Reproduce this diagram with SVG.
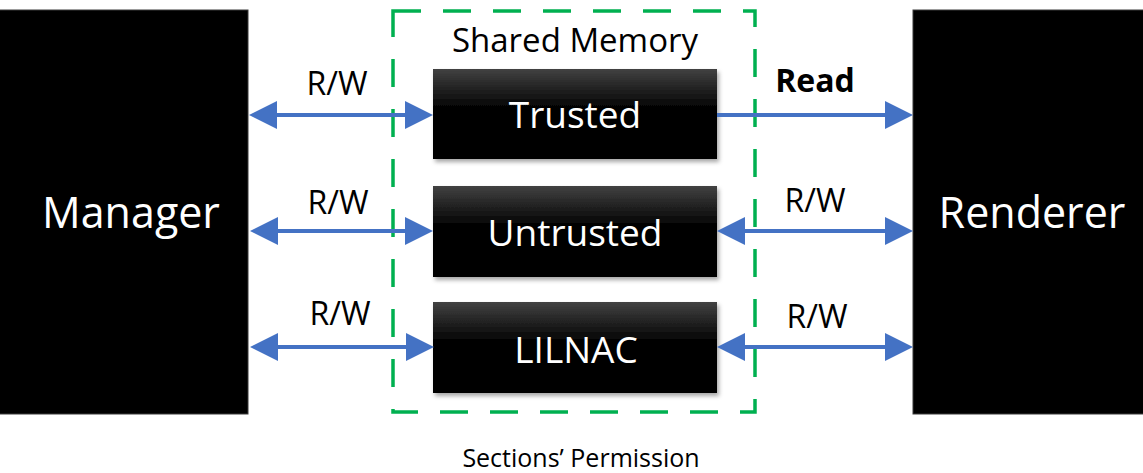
<svg xmlns="http://www.w3.org/2000/svg" width="1143" height="473" viewBox="0 0 1143 473">
  <defs>
    <linearGradient id="sectionFill" x1="0" y1="0" x2="0" y2="1">
      <stop offset="0" stop-color="#424242"/>
      <stop offset="0.45" stop-color="#000000"/>
      <stop offset="1" stop-color="#000000"/>
    </linearGradient>
    <filter id="shadow" x="-10%" y="-10%" width="125%" height="130%">
      <feDropShadow dx="2" dy="3" stdDeviation="2" flood-color="#000" flood-opacity="0.35"/>
    </filter>
    <marker id="head" viewBox="0 0 28 28" markerWidth="28" markerHeight="28" refX="8" refY="14" markerUnits="userSpaceOnUse" orient="auto-start-reverse">
      <path d="M0,0 L28,14 L0,28 z" fill="#4472C4"/>
    </marker>
    <style>
      .txt { font-family: "Open Sans", "Liberation Sans", sans-serif; text-anchor: middle; }
      .proc { fill: #000; stroke: #3a3a3a; stroke-width: 1; }
      .proc-label { fill: #fff; font-size: 43px; }
      .section { fill: url(#sectionFill); filter: url(#shadow); }
      .section-label { fill: #fff; font-size: 37px; }
      .perm { fill: #000; font-size: 32px; }
      .link { stroke: #4472C4; stroke-width: 4; fill: none; }
      .region { fill: none; stroke: #00B050; stroke-width: 3.5; stroke-dasharray: 28 22; }
    </style>
  </defs>

  <rect width="1143" height="473" fill="#fff"/>

  <!-- shared memory region -->
  <g id="shared-memory">
    <rect class="region" x="393" y="11" width="362" height="401"/>
    <text class="txt" x="575" y="52" font-size="33">Shared Memory</text>
  </g>

  <!-- processes -->
  <g id="manager">
    <rect class="proc" x="-1" y="10" width="249" height="404"/>
    <text class="txt proc-label" x="131" y="228">Manager</text>
  </g>
  <g id="renderer">
    <rect class="proc" x="913" y="10" width="231" height="404"/>
    <text class="txt proc-label" x="1032" y="228">Renderer</text>
  </g>

  <!-- memory sections -->
  <g id="trusted">
    <rect class="section" x="433" y="69" width="284" height="90"/>
    <text class="txt section-label" x="575" y="128">Trusted</text>
  </g>
  <g id="untrusted">
    <rect class="section" x="433" y="186" width="284" height="91"/>
    <text class="txt section-label" x="575" y="246">Untrusted</text>
  </g>
  <g id="lilnac">
    <rect class="section" x="433" y="302" width="284" height="91"/>
    <text class="txt section-label" x="576" y="363">LILNAC</text>
  </g>

  <!-- access connectors -->
  <g id="connectors">
    <line class="link" x1="269" y1="115" x2="413" y2="115" marker-start="url(#head)" marker-end="url(#head)"/>
    <line class="link" x1="270" y1="231" x2="413" y2="231" marker-start="url(#head)" marker-end="url(#head)"/>
    <line class="link" x1="270" y1="347" x2="414" y2="347" marker-start="url(#head)" marker-end="url(#head)"/>
    <line class="link" x1="717" y1="115" x2="893" y2="115" marker-end="url(#head)"/>
    <line class="link" x1="737" y1="231" x2="893" y2="231" marker-start="url(#head)" marker-end="url(#head)"/>
    <line class="link" x1="737" y1="347" x2="893" y2="347" marker-start="url(#head)" marker-end="url(#head)"/>
  </g>

  <!-- permission labels -->
  <g id="labels">
    <text class="txt perm" x="337" y="95">R/W</text>
    <text class="txt perm" x="338" y="214">R/W</text>
    <text class="txt perm" x="340" y="325">R/W</text>
    <text class="txt perm" x="815" y="92" font-weight="bold" font-size="30">Read</text>
    <text class="txt perm" x="815" y="212">R/W</text>
    <text class="txt perm" x="817" y="328">R/W</text>
  </g>

  <text class="txt" x="581" y="467" font-size="25">Sections’ Permission</text>
</svg>
